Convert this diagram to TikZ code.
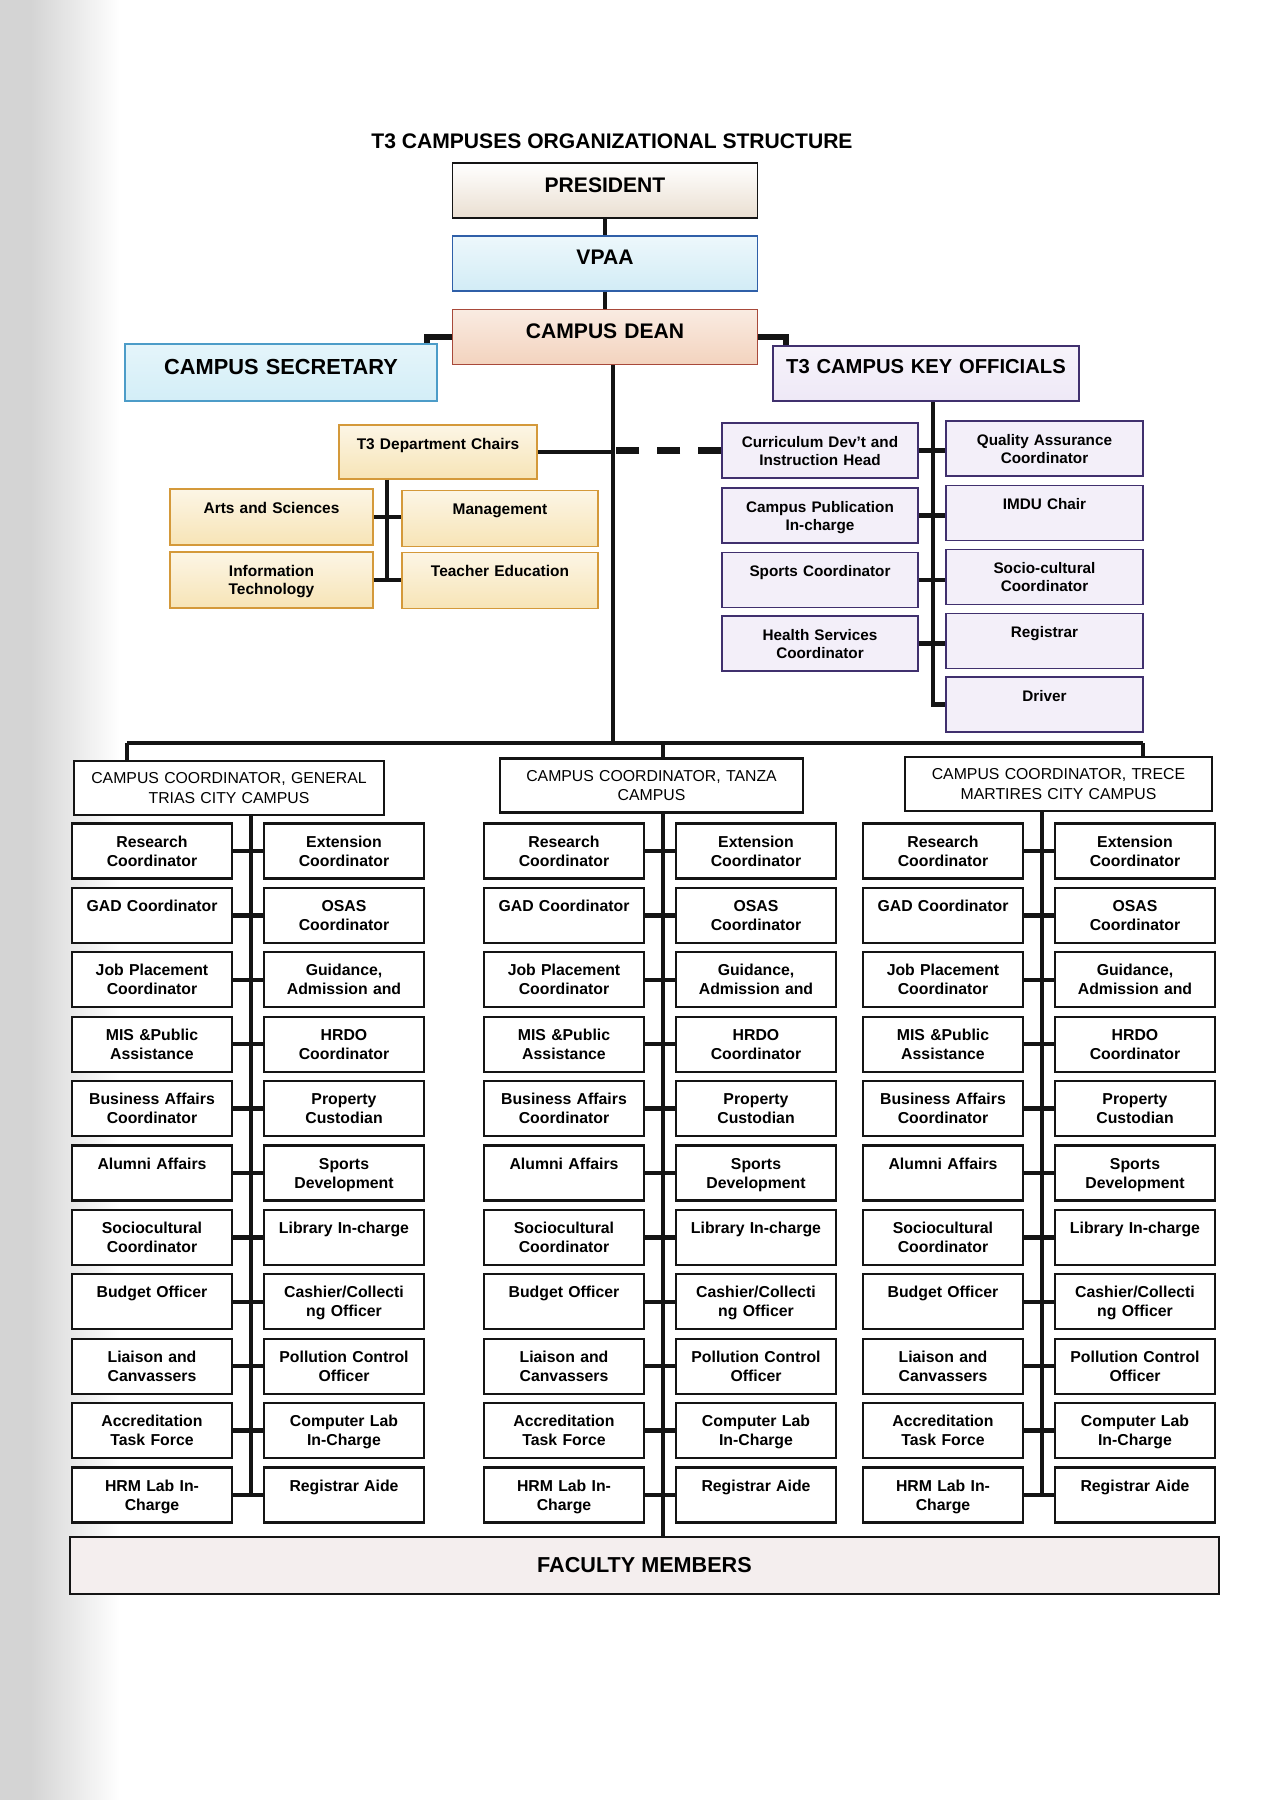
\documentclass[tikz,border=0pt]{standalone}
\usepackage{fontspec}
\setmainfont{Liberation Sans}
\usepackage{tikz}
\usetikzlibrary{positioning}
\definecolor{ink}{HTML}{141414}
\definecolor{presfill}{HTML}{EADFD1}
\definecolor{vpaafill}{HTML}{D2ECF6}
\definecolor{vpaadraw}{HTML}{2F5FA8}
\definecolor{deanfill}{HTML}{F3D3BE}
\definecolor{deandraw}{HTML}{A8493A}
\definecolor{secfill}{HTML}{D3EEF7}
\definecolor{secdraw}{HTML}{4C9CC8}
\definecolor{keyfill}{HTML}{EEE8F6}
\definecolor{keydraw}{HTML}{40306E}
\definecolor{deptfill}{HTML}{F7E4B6}
\definecolor{deptdraw}{HTML}{D4993A}
\definecolor{facfill}{HTML}{F4EEEE}

\begin{document}
\begin{tikzpicture}[
  x=0.2mm,y=-0.2mm,
  every node/.style={align=center,inner xsep=1pt,inner ysep=0pt},
  headbox/.style={draw=ink,line width=0.35mm,font=\fontsize{12}{14}\selectfont\bfseries,
    text width=58mm,minimum width=61mm,text height=16.5pt,text depth=14.8pt},
  pres/.style={headbox,top color=white,bottom color=presfill},
  vpaa/.style={headbox,draw=vpaadraw,top color=vpaafill!40,bottom color=vpaafill},
  dean/.style={headbox,draw=deandraw,top color=deanfill!45,bottom color=deanfill},
  secbox/.style={headbox,draw=secdraw,top color=secfill!60,bottom color=secfill,
    font=\fontsize{12.4}{14}\selectfont\bfseries,minimum width=62.4mm,text height=17.5pt,text depth=14.9pt},
  keyhead/.style={headbox,draw=keydraw,top color=keyfill!50,bottom color=keyfill,
    font=\fontsize{11.5}{14}\selectfont\bfseries,minimum width=61.2mm,text height=15.5pt,text depth=15.8pt},
  dept/.style={draw=deptdraw,line width=0.3mm,top color=deptfill!35,bottom color=deptfill,
    font=\fontsize{8.8}{10.6}\selectfont\bfseries,text width=37mm,minimum width=40.6mm,
    text height=13.7pt,text depth=18.2pt},
  keyitem/.style={draw=keydraw,line width=0.35mm,fill=keyfill!70,
    font=\fontsize{8.7}{10.4}\selectfont\bfseries,text width=37mm,minimum width=39.2mm,
    text height=13.7pt,text depth=17.6pt},
  unit/.style={draw=ink,line width=0.45mm,fill=white,
    font=\fontsize{9}{10.8}\selectfont\bfseries,text width=30mm,minimum width=32mm,
    text height=13.4pt,text depth=17.9pt},
  coord/.style={draw=ink,line width=0.45mm,fill=white,font=\fontsize{9}{11}\selectfont,
    text width=59mm,minimum width=62mm,minimum height=10.8mm},
  faculty/.style={draw=ink,line width=0.45mm,fill=facfill,
    font=\fontsize{12.3}{14}\selectfont\bfseries,minimum width=229.8mm,minimum height=11.4mm},
  link/.style={draw=ink,line width=0.9mm},
  heavylink/.style={draw=ink,line width=1.1mm},
  dashlink/.style={draw=ink,line width=1.3mm,dash pattern=on 4.7mm off 3.5mm}
]
\useasboundingbox (0,0) rectangle (1272,1800);
\fill[white] (0,0) rectangle (1272,1800);
\fill[black!17] (0,0) rectangle (30,1800);
\shade[left color=black!17,right color=white] (30,0) rectangle (120,1800);

% top of the chart
\node[font=\fontsize{12}{14}\selectfont\bfseries] (title) at (612,141) {T3 CAMPUSES ORGANIZATIONAL STRUCTURE};
\node[pres] (president) at (605,190.5) {PRESIDENT};
\node[vpaa,below=3.2mm of president] (vpaa) {VPAA};
\node[dean,below=3.4mm of vpaa] (dean) {CAMPUS DEAN};
\node[secbox] (secretary) at (281,372.5) {CAMPUS SECRETARY};
\node[keyhead] (keyoff) at (926,373.5) {T3 CAMPUS KEY OFFICIALS};
\draw[link] (president) -- (vpaa);
\draw[link] (vpaa) -- (dean);
\draw[heavylink] (dean.west) -| ([xshift=-2.2mm]secretary.north east);
\draw[heavylink] (dean.east) -| ([xshift=2.8mm]keyoff.north west);

% department chairs
\node[dept,minimum width=39.6mm,text height=14.2pt,text depth=16.5pt] (deptchairs) at (438,452) {T3 Department Chairs};
\node[dept] (arts) at (271.5,517) {Arts and Sciences};
\node[dept,minimum width=39.2mm] (mgmt) at (500,518.5) {Management};
\node[dept] (infotech) at (271.5,580) {Information\\Technology};
\node[dept,minimum width=39.2mm] (teached) at (500,580.5) {Teacher Education};
\coordinate (dspine) at (387,583);
\draw[link] (deptchairs.south -| dspine) -- (dspine |- infotech.east);
\draw[link] (arts.east) -- (arts.east -| mgmt.west);
\draw[link] (infotech.east) -- (infotech.east -| teached.west);

% key officials
\node[keyitem] (kl1) at (820,450.5) {Curriculum Dev't and\\Instruction Head};
\node[keyitem] (kl2) at (820,515.5) {Campus Publication\\In-charge};
\node[keyitem] (kl3) at (820,580) {Sports Coordinator};
\node[keyitem] (kl4) at (820,643.5) {Health Services\\Coordinator};
\node[keyitem,minimum width=39.4mm] (kr1) at (1044.5,448.5) {Quality Assurance\\Coordinator};
\node[keyitem,minimum width=39.4mm] (kr2) at (1044.5,513) {IMDU Chair};
\node[keyitem,minimum width=39.4mm] (kr3) at (1044.5,577) {Socio-cultural\\Coordinator};
\node[keyitem,minimum width=39.4mm] (kr4) at (1044.5,641) {Registrar};
\node[keyitem,minimum width=39.4mm] (kr5) at (1044.5,704.5) {Driver};
\coordinate (kspine) at (933,400);
\draw[link] (keyoff.south -| kspine) |- (kr5.west);
\draw[link] (kl1.east) -- (kl1.east -| kr1.west);
\draw[link] (kl2.east) -- (kl2.east -| kr2.west);
\draw[link] (kl3.east) -- (kl3.east -| kr3.west);
\draw[link] (kl4.east) -- (kl4.east -| kr4.west);

% trunk and the three campuses
\coordinate (trunk) at (613,743);
\coordinate (barL) at (127,743);
\coordinate (barR) at (1143,743);
\draw[link] (dean.south -| trunk) -- (trunk);
\draw[link] (deptchairs.east) -- (deptchairs.east -| trunk);
\draw[dashlink] (kl1.west) -- (kl1.west -| trunk);
\draw[link] (barL) -- (barR);

\node[coord] (gt-c) at (229,788) {CAMPUS COORDINATOR, GENERAL\\TRIAS CITY CAMPUS};
\node[coord,minimum width=60.6mm] (tz-c) at (651.5,785.5) {CAMPUS COORDINATOR, TANZA\\CAMPUS};
\node[coord,minimum width=61.4mm] (tm-c) at (1058.5,784) {CAMPUS COORDINATOR, TRECE\\MARTIRES CITY CAMPUS};
\node[faculty] (faculty) at (644.5,1565.5) {FACULTY MEMBERS};
\draw[link] (barL) -- (barL |- gt-c.north);
\draw[link] (663,743) -- (tz-c.north -| 663,0);
\draw[link] (barR) -- (barR |- tm-c.north);

\foreach \cn/\cx in {gt/251,tz/663,tm/1042}{
  \foreach \txt [count=\i] in {Research\\Coordinator,GAD Coordinator,Job Placement\\Coordinator,
      MIS \&Public\\Assistance,Business Affairs\\Coordinator,Alumni Affairs,Sociocultural\\Coordinator,
      Budget Officer,Liaison and\\Canvassers,Accreditation\\Task Force,HRM Lab In-\\Charge}
    \node[unit] (\cn-l\i) at ({\cx-99},{851+64.4*(\i-1)}) {\txt};
  \foreach \txt [count=\i] in {Extension\\Coordinator,OSAS\\Coordinator,{Guidance,\\Admission and},
      HRDO\\Coordinator,Property\\Custodian,Sports\\Development,Library In-charge,
      Cashier/Collecti\\ng Officer,Pollution Control\\Officer,Computer Lab\\In-Charge,Registrar Aide}
    \node[unit] (\cn-r\i) at ({\cx+93},{851+64.4*(\i-1)}) {\txt};
  \foreach \i in {1,...,11}
    \draw[link] (\cn-l\i.east) -- (\cn-r\i.west);
}
\draw[link] (gt-c.south -| 251,0) -- (gt-l11.east -| 251,0);
\draw[link] (tz-c.south -| 663,0) -- (faculty.north -| 663,0);
\draw[link] (tm-c.south -| 1042,0) -- (tm-l11.east -| 1042,0);
\end{tikzpicture}
\end{document}
